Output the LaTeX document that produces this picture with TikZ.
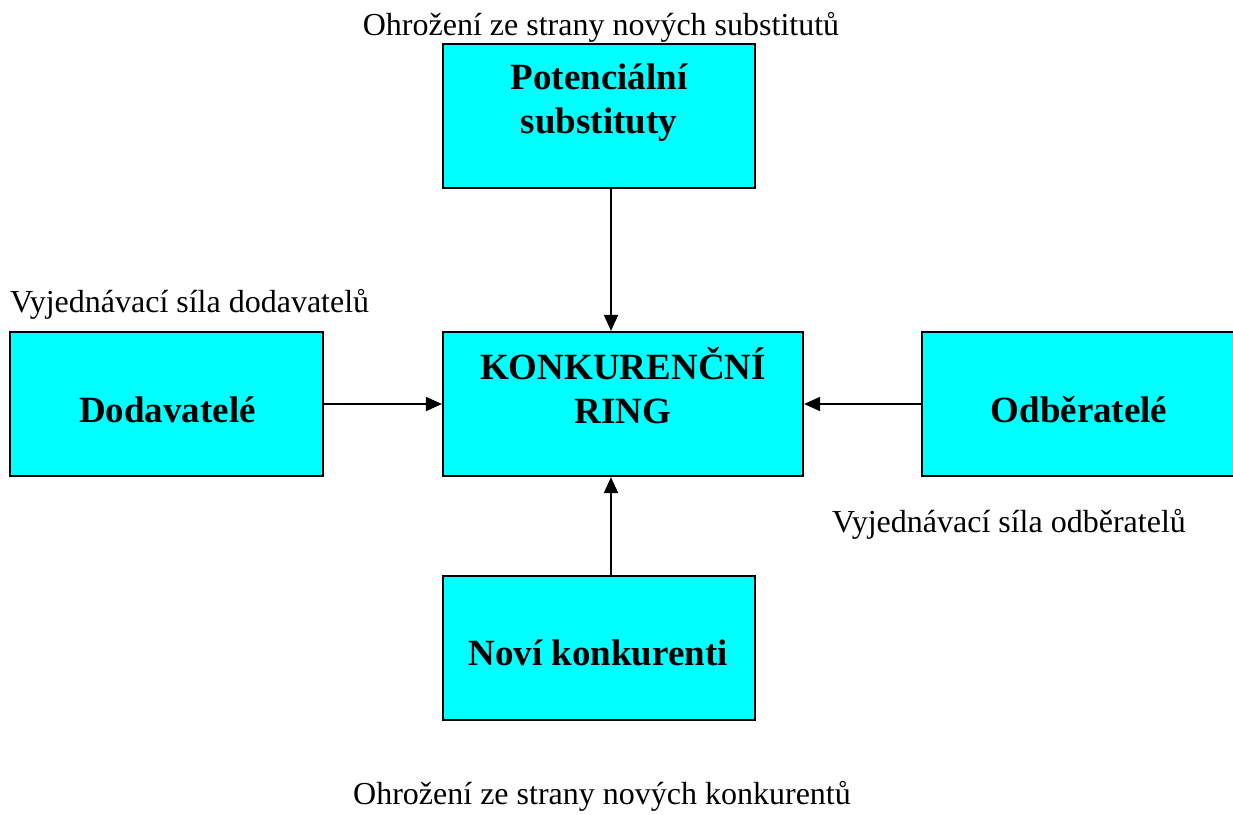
\documentclass[tikz,border=0pt]{standalone}
\usepackage{fontspec}
\setmainfont{Liberation Serif}
\usetikzlibrary{arrows.meta}
\definecolor{boxcyan}{HTML}{00FFFF}
\begin{document}
\begin{tikzpicture}[x=1pt,y=-1pt,
  box/.style={draw=black, line width=2.2pt, fill=boxcyan, inner sep=0pt, minimum height=144pt},
  boxtext/.style={font=\fontsize{37}{44}\selectfont\bfseries, align=center, inner sep=0pt},
  note/.style={font=\fontsize{32}{36}\selectfont, inner sep=0pt},
  arr/.style={line width=1.8pt, -{Triangle[length=16pt,width=14pt]}}]
\useasboundingbox (0,0) rectangle (1233,814);
% the five forces
\node[box, minimum width=312pt] (subst) at (599,116) {};
\node[box, minimum width=360pt] (ring) at (623,404) {};
\node[box, minimum width=313pt] (supp) at (166.5,404) {};
\node[box, minimum width=320pt] (buy) at (1082,404) {};
\node[box, minimum width=312pt] (new) at (599,648) {};
% box captions (anchored on the last baseline)
\node[boxtext, anchor=base] (substT) at (599,133) {Potenciální\\substituty};
\node[boxtext, anchor=base] (ringT) at (623,423) {KONKURENČNÍ\\RING};
\node[boxtext, anchor=base] (suppT) at (167.5,422) {Dodavatelé};
\node[boxtext, anchor=base] (buyT) at (1079,422) {Odběratelé};
\node[boxtext, anchor=base] (newT) at (598,665) {Noví konkurenti};
% annotations
\node[note, anchor=base] (n1) at (601,35) {Ohrožení ze strany nových substitutů};
\node[note, anchor=base west] (n2) at (10,312) {Vyjednávací síla dodavatelů};
\node[note, anchor=base west] (n3) at (832,532) {Vyjednávací síla odběratelů};
\node[note, anchor=base] (n4) at (602,804) {Ohrožení ze strany nových konkurentů};
% connectors
\draw[arr] ([xshift=12pt]subst.south) -- ([xshift=12pt]subst.south |- ring.north);
\draw[arr] ([xshift=12pt]new.north) -- ([xshift=12pt]new.north |- ring.south);
\draw[arr] (supp.east) -- (ring.west);
\draw[arr] (buy.west) -- (ring.east);
\end{tikzpicture}
\end{document}
